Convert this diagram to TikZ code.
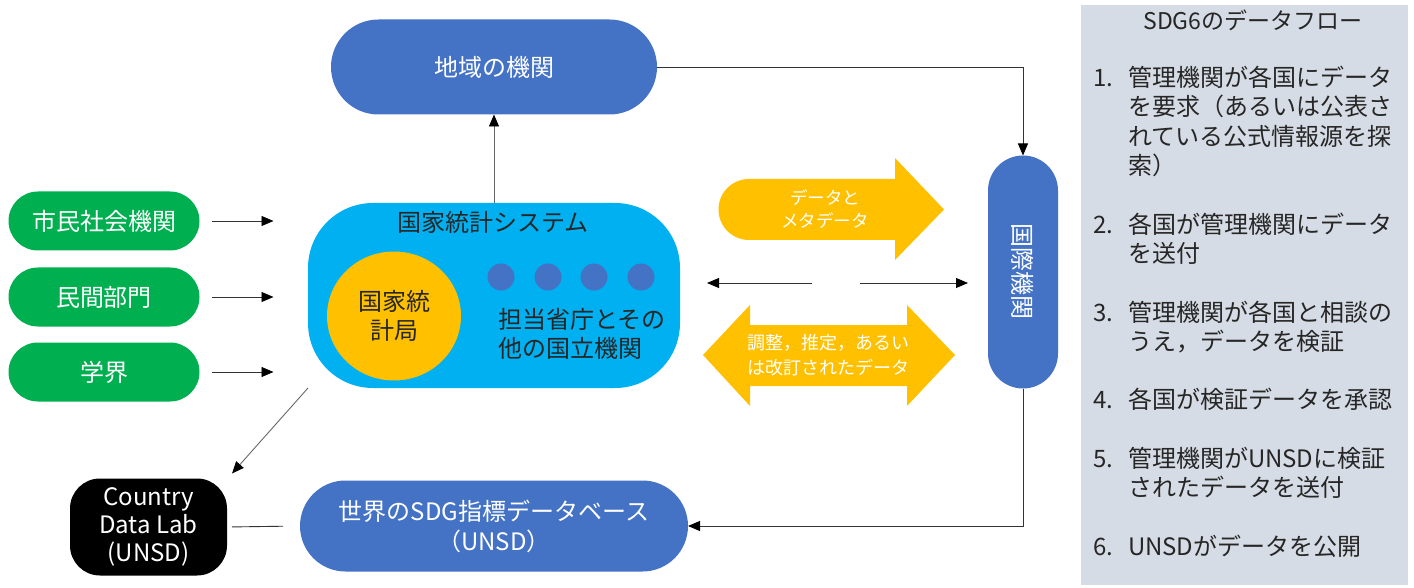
\documentclass[tikz,border=0pt]{standalone}
\usepackage{fontspec}
\setmainfont{Noto Sans CJK JP}
\usetikzlibrary{arrows.meta,shapes.geometric,shapes.misc}
\definecolor{cgreen}{HTML}{00B050}
\definecolor{cblue}{HTML}{4472C4}
\definecolor{csky}{HTML}{00B0F0}
\definecolor{cyel}{HTML}{FFC000}
\definecolor{cpanel}{HTML}{D6DCE5}
\definecolor{ctext}{HTML}{262626}
\begin{document}
\begin{tikzpicture}[x=1pt,y=-1pt,
  every node/.style={inner sep=0pt, outer sep=0pt, font=\fontsize{24}{29}\selectfont},
  gbox/.style={rounded rectangle, fill=cgreen, text=white, minimum width=191pt, minimum height=59pt},
  bbox/.style={rounded rectangle, fill=cblue, text=white, align=center},
  conn/.style={draw=black!80, line width=0.9pt, -{Triangle[length=12pt,width=10pt,color=black]}},
  plainline/.style={draw=black!80, line width=0.9pt},
  ptext/.style={anchor=west, text=ctext, text height=20pt, text depth=4pt},
]
\useasboundingbox (0,0) rectangle (1414,588);
\fill[white] (0,0) rectangle (1414,588);
\fill[cpanel] (1081,5) rectangle (1408,585);

% left green boxes
\node[gbox] (civ) at (104,221) {市民社会機関};
\node[gbox] (priv) at (104,297) {民間部門};
\node[gbox] (acad) at (104,372) {学界};

% national statistical system
\node[fill=csky, rounded corners=65pt, minimum width=372pt, minimum height=185pt] (sys) at (494,295.5) {};
\node[text=ctext] (systitle) at (493,222) {国家統計システム};
\node[ellipse, fill=cyel, minimum width=134pt, minimum height=129pt, align=center, text=ctext] (nso) at (394,316) {国家統\\計局};
\foreach \i/\x in {1/501,2/548,3/594,4/641}
  \node[circle, fill=cblue, minimum size=27pt] (dot\i) at (\x,277) {};
\node[anchor=west, align=left, text=ctext] (min) at (498,334) {担当省庁とその\\他の国立機関};

% blue boxes
\node[bbox, minimum width=326pt, minimum height=95pt] (reg) at (494,67) {地域の機関};
\node[bbox, minimum width=233pt, minimum height=70pt, rotate=-90] (intl) at (1023,272) {国際機関};
\node[bbox, minimum width=388pt, minimum height=91pt, font=\fontsize{24}{30}\selectfont] (world) at (494,526) {世界のSDG指標データベース\\（UNSD）};
\node[fill=black, text=white, rounded corners=30pt, minimum width=157pt, minimum height=97pt, align=center, font=\fontsize{24}{28}\selectfont] (cdl) at (148.5,527) {Country\\Data Lab\\(UNSD)};

% yellow arrows
\fill[cyel] (749,209.5) circle[radius=30.5pt];
\fill[cyel] (749,179) -- (895,179) -- (895,158) -- (944,209.5) -- (895,260) -- (895,240) -- (749,240) -- cycle;
\node[text=white, align=center, font=\fontsize{17.5}{23}\selectfont] (dm) at (825,209) {データと\\メタデータ};
\fill[cyel] (703,355) -- (750,305) -- (750,325) -- (907,325) -- (907,305) -- (955,355) -- (907,406) -- (907,386) -- (750,386) -- (750,406) -- cycle;
\node[text=white, align=center, font=\fontsize{18}{25}\selectfont] (adj) at (828,355) {調整，推定，あるい\\は改訂されたデータ};

% thin arrows in the middle
\coordinate (gapL) at (812,283);
\coordinate (gapR) at (860,283);
\coordinate (tipL) at (707,283);
\coordinate (tipR) at (968,283);
\draw[conn] (gapL) -- (tipL);
\draw[conn] (gapR) -- (tipR);

% connectors
\foreach \n in {civ,priv,acad}
  \draw[conn] ([xshift=12pt]\n.east) -- ([xshift=74pt]\n.east);
\draw[conn, draw=black!60] (sys.north) -- (reg.south);
\draw[conn] (reg.east) -| (intl.west);
\draw[conn] (intl.east) |- (world.east);
\draw[conn, draw=black!60] (sys.south west) -- ([shift={(5,-5)}]cdl.north east);
\draw[plainline, shorten <=5pt, shorten >=17pt] (cdl.east) -- (world.west);

% right panel text
\node[text=ctext, font=\fontsize{23}{27}\selectfont] (ptitle) at (1253,20) {SDG6のデータフロー};
\foreach \y/\n [count=\i] in {78.6/1,225.1/2,313/3,400.9/4,459.5/5,547.4/6}
  \node[ptext] (num\i) at (1093,\y) {\n.};
\foreach \y/\t [count=\i] in {78.6/管理機関が各国にデータ,107.9/を要求（あるいは公表さ,137.2/れている公式情報源を探,166.5/索）,225.1/各国が管理機関にデータ,254.4/を送付,313/管理機関が各国と相談の,342.3/うえ，データを検証,400.9/各国が検証データを承認,459.5/管理機関がUNSDに検証,488.8/されたデータを送付,547.4/UNSDがデータを公開}
  \node[ptext] (pl\i) at (1128,\y) {\t};
\end{tikzpicture}
\end{document}
